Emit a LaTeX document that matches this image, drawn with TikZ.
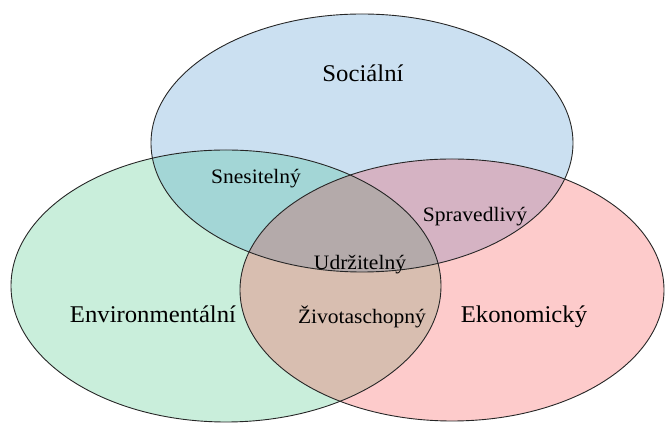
\documentclass[tikz,border=0pt]{standalone}
\usepackage{fontspec}
\setmainfont{Liberation Serif}
\definecolor{cSoc}{HTML}{CBE0F1}
\definecolor{cEnv}{HTML}{C9EEDB}
\definecolor{cEko}{HTML}{FDCBCB}
\definecolor{cSE}{HTML}{A3D6D6}
\definecolor{cSK}{HTML}{D5B3C3}
\definecolor{cEK}{HTML}{D8BEB0}
\definecolor{cAll}{HTML}{B4AAAA}
\begin{document}
\begin{tikzpicture}[x=1pt,y=1pt,
  outline/.style={draw=black!85, line width=0.9pt},
  bigtxt/.style={anchor=base, inner sep=0pt, font=\fontsize{24}{27}\selectfont},
  smalltxt/.style={anchor=base, inner sep=0pt, font=\fontsize{20.5}{23}\selectfont}]
\useasboundingbox (0,0) rectangle (665,425);
\def\Soc{(362,282) ellipse [x radius=211, y radius=129]}
\def\Env{(226,139) ellipse [x radius=215, y radius=136]}
\def\Eko{(452,135) ellipse [x radius=212, y radius=131]}
\fill[cSoc] \Soc;
\fill[cEnv] \Env;
\fill[cEko] \Eko;
\begin{scope}\clip \Soc; \fill[cSE] \Env; \end{scope}
\begin{scope}\clip \Soc; \fill[cSK] \Eko; \end{scope}
\begin{scope}\clip \Env; \fill[cEK] \Eko; \end{scope}
\begin{scope}\clip \Soc; \clip \Env; \fill[cAll] \Eko; \end{scope}
\draw[outline] \Soc;
\draw[outline] \Env;
\draw[outline] \Eko;
\node[bigtxt] (soc) at (363,343) {\scalebox{1.03}[1]{Sociální}};
\node[bigtxt] (env) at (153,102) {\scalebox{1.03}[1]{Environmentální}};
\node[bigtxt] (eko) at (524,102) {\scalebox{1.03}[1]{Ekonomický}};
\node[smalltxt] (sne) at (256,241) {\scalebox{1.05}[1]{Snesitelný}};
\node[smalltxt] (spr) at (475,203) {\scalebox{1.05}[1]{Spravedlivý}};
\node[smalltxt] (udr) at (360,155) {\scalebox{1.05}[1]{Udržitelný}};
\node[smalltxt] (ziv) at (362,101) {\scalebox{1.05}[1]{Životaschopný}};
\end{tikzpicture}
\end{document}
